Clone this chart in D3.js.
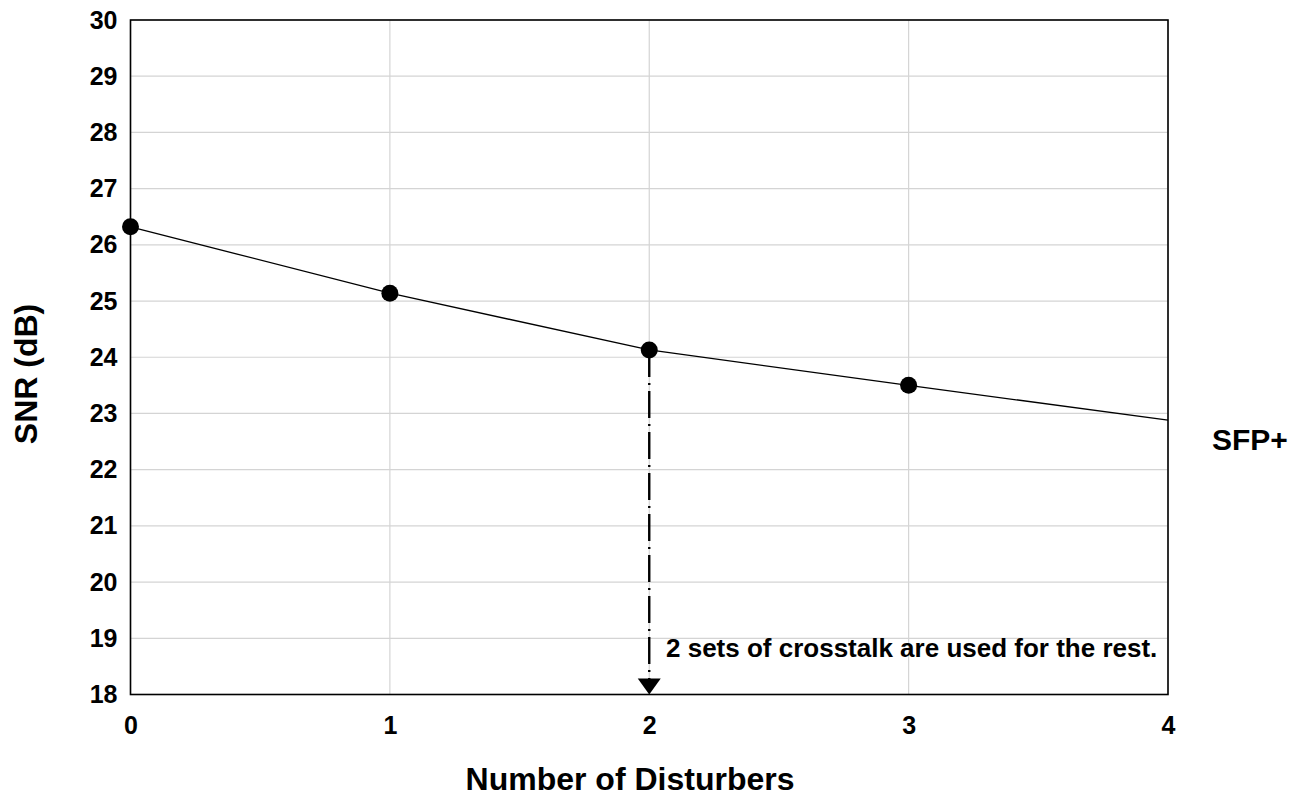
<!DOCTYPE html>
<html>
<head>
<meta charset="utf-8">
<script src="https://cdn.jsdelivr.net/npm/d3@7"></script>
<style>
  html, body { margin: 0; padding: 0; background: #fff; }
  svg { display: block; font-family: "Liberation Sans", Arial, sans-serif; font-weight: bold; }
</style>
</head>
<body>
<svg id="chart" width="1296" height="796"></svg>
<script>
// SNR versus number of crosstalk disturbers (SFP+ channel)
const disturbers = [0, 1, 2, 3];
const snrDb = [26.32, 25.14, 24.13, 23.50];
// trend line continues to the edge of the axis
const trendX = [0, 1, 2, 3, 4];
const trendSnr = [26.32, 25.14, 24.13, 23.50, 22.88];
const xTicks = [0, 1, 2, 3, 4];
const yTicks = [18, 19, 20, 21, 22, 23, 24, 25, 26, 27, 28, 29, 30];
const chosenDisturbers = 2;
const seriesName = "SFP+";
const noteText = "2 sets of crosstalk are used for the rest.";

const svg = d3.select("#chart");
const plotL = 130.5, plotR = 1168, plotT = 20, plotB = 694.5;

const x = d3.scaleLinear().domain([0, 4]).range([plotL, plotR]);
const y = d3.scaleLinear().domain([18, 30]).range([plotB, plotT]);

// gridlines
const grid = svg.append("g");
grid.selectAll("line.h").data(yTicks).join("line").attr("class", "h")
  .attr("x1", plotL).attr("x2", plotR)
  .attr("y1", d => y(d)).attr("y2", d => y(d))
  .attr("stroke", "#d4d4d4").attr("stroke-width", 1.2);
grid.selectAll("line.v").data(xTicks).join("line").attr("class", "v")
  .attr("y1", plotT).attr("y2", plotB)
  .attr("x1", d => x(d)).attr("x2", d => x(d))
  .attr("stroke", "#d4d4d4").attr("stroke-width", 1.2);

// axes (labels only, no tick marks)
const yAxis = d3.axisLeft(y).tickValues(yTicks).tickSize(0).tickPadding(13).tickFormat(d3.format("d"));
const gy = svg.append("g").attr("transform", `translate(${plotL},0)`).call(yAxis);
gy.select(".domain").remove();
gy.selectAll("text").attr("font-size", 25).attr("font-weight", "bold").attr("fill", "#000")
  .attr("font-family", "Liberation Sans, Arial, sans-serif");

const xAxis = d3.axisBottom(x).tickValues(xTicks).tickSize(0).tickPadding(22).tickFormat(d3.format("d"));
const gx = svg.append("g").attr("transform", `translate(0,${plotB})`).call(xAxis);
gx.select(".domain").remove();
gx.selectAll("text").attr("font-size", 25).attr("font-weight", "bold").attr("fill", "#000")
  .attr("font-family", "Liberation Sans, Arial, sans-serif");

// plot frame
svg.append("rect")
  .attr("x", plotL).attr("y", plotT)
  .attr("width", plotR - plotL).attr("height", plotB - plotT)
  .attr("fill", "none").attr("stroke", "#000").attr("stroke-width", 1.6);

// dash-dot pointer from the chosen point down to the axis
const chosenIdx = disturbers.indexOf(chosenDisturbers);
svg.append("line")
  .attr("x1", x(chosenDisturbers)).attr("x2", x(chosenDisturbers))
  .attr("y1", y(snrDb[chosenIdx])).attr("y2", plotB - 15)
  .attr("stroke", "#000").attr("stroke-width", 2.4)
  .attr("stroke-dasharray", "27,6,2,6");
svg.append("path")
  .attr("d", d3.line()([[x(chosenDisturbers) - 11.5, plotB - 16], [x(chosenDisturbers) + 11.5, plotB - 16], [x(chosenDisturbers), plotB]]) + "Z")
  .attr("fill", "#000");

// trend line
svg.append("path")
  .datum(trendX.map((d, i) => [d, trendSnr[i]]))
  .attr("fill", "none").attr("stroke", "#000").attr("stroke-width", 1.3)
  .attr("d", d3.line().x(d => x(d[0])).y(d => y(d[1])));

// markers
svg.append("g").selectAll("circle").data(disturbers).join("circle")
  .attr("cx", d => x(d)).attr("cy", (d, i) => y(snrDb[i]))
  .attr("r", 8.5).attr("fill", "#000");

// annotation
svg.append("text")
  .attr("x", 666).attr("y", 657)
  .attr("font-size", 26).attr("fill", "#000")
  .text(noteText);

// series label
svg.append("text")
  .attr("x", 1212).attr("y", 450)
  .attr("font-size", 30).attr("fill", "#000")
  .text(seriesName);

// axis titles
svg.append("text")
  .attr("x", 630).attr("y", 790).attr("text-anchor", "middle")
  .attr("font-size", 32).attr("fill", "#000")
  .text("Number of Disturbers");
svg.append("text")
  .attr("transform", "translate(37,374) rotate(-90)").attr("text-anchor", "middle")
  .attr("font-size", 32).attr("fill", "#000")
  .text("SNR (dB)");
</script>
</body>
</html>
